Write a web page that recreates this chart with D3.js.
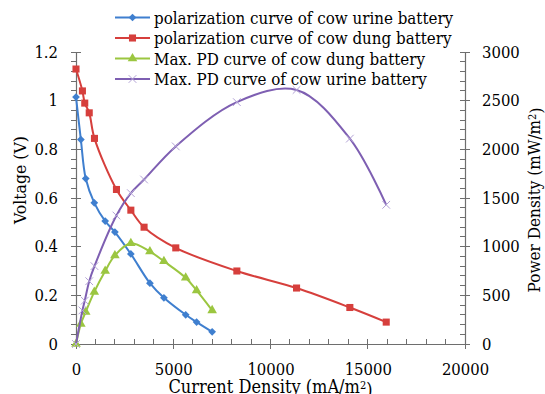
<!DOCTYPE html>
<html>
<head>
<meta charset="utf-8">
<script src="https://cdn.jsdelivr.net/npm/d3@7"></script>
<style>
  body { margin: 0; background: #fff; }
  svg text { font-stretch: condensed; }
</style>
</head>
<body>
<div id="chart"></div>
<script>
// polarization curve of cow urine battery
var urineCurrent = [0, 250, 500, 940, 1500, 2000, 2820, 3800, 4520, 5640, 6200, 7000];
var urineVoltage = [1.015, 0.84, 0.68, 0.58, 0.505, 0.46, 0.37, 0.25, 0.19, 0.12, 0.09, 0.05];
// polarization curve of cow dung battery
var dungCurrent = [0, 330, 450, 680, 950, 2080, 2820, 3500, 5130, 8270, 11340, 14080, 15950];
var dungVoltage = [1.13, 1.04, 0.99, 0.95, 0.845, 0.635, 0.55, 0.48, 0.395, 0.30, 0.23, 0.15, 0.09];
// Max. PD curve of cow dung battery (plotted on the urine current values)
var dungPD = [0, 205, 330, 535, 750, 910, 1035, 950, 850, 680, 550, 345];
// Max. PD curve of cow urine battery (plotted on the dung current values)
var urinePD = [0, 345, 445, 645, 800, 1320, 1550, 1690, 2030, 2485, 2610, 2110, 1430];

var legendNames = [
  "polarization curve of cow urine battery",
  "polarization curve of cow dung battery",
  "Max. PD curve of cow dung battery",
  "Max. PD curve of cow urine battery"
];
var xTicks = [0, 5000, 10000, 15000, 20000];
var yLeftTicks = [0, 0.2, 0.4, 0.6, 0.8, 1, 1.2];
var yRightTicks = [0, 500, 1000, 1500, 2000, 2500, 3000];

var width = 545, height = 394;
var tickFont = 16.5;
var serif = "'DejaVu Serif Condensed', 'DejaVu Serif', serif";

var svg = d3.select("#chart").append("svg")
    .attr("width", width)
    .attr("height", height)
    .attr("font-family", serif);

var x = d3.scaleLinear().domain([0, 20000]).range([76, 465]);
var yL = d3.scaleLinear().domain([0, 1.2]).range([344, 52]);
var yR = d3.scaleLinear().domain([0, 3000]).range([344, 52]);

var axisColor = "#6e6e6e";

// tick marks: minor ticks inside/outside, major ticks crossing
function tickLines(g, vals, fn) {
  g.selectAll(null).data(vals).enter().append("line")
    .each(function(d) { var p = fn(d); d3.select(this).attr("x1", p[0]).attr("y1", p[1]).attr("x2", p[2]).attr("y2", p[3]); })
    .attr("stroke", axisColor).attr("stroke-width", 1);
}
var ticksG = svg.append("g").attr("shape-rendering", "crispEdges");
tickLines(ticksG, d3.range(0, 20001, 1000), function(d) { return [x(d), 339, x(d), 344]; });
tickLines(ticksG, xTicks, function(d) { return [x(d), 339, x(d), 349]; });
tickLines(ticksG, d3.range(0, 31).map(function(i) { return i * 0.04; }), function(d) { return [71, yL(d), 76, yL(d)]; });
tickLines(ticksG, yLeftTicks, function(d) { return [71, yL(d), 81, yL(d)]; });
tickLines(ticksG, d3.range(0, 3001, 100), function(d) { return [460, yR(d), 465, yR(d)]; });
tickLines(ticksG, yRightTicks, function(d) { return [460, yR(d), 470, yR(d)]; });

// axes (labels + axis lines)
var xAxis = svg.append("g").attr("transform", "translate(0,344)")
    .call(d3.axisBottom(x).tickValues(xTicks).tickSize(0).tickPadding(19).tickFormat(d3.format("d")));
var yAxisL = svg.append("g").attr("transform", "translate(76,0)")
    .call(d3.axisLeft(yL).tickValues(yLeftTicks).tickSize(0).tickPadding(18).tickFormat(function(d) { return String(d); }));
var yAxisR = svg.append("g").attr("transform", "translate(465,0)")
    .call(d3.axisRight(yR).tickValues(yRightTicks).tickSize(0).tickPadding(17).tickFormat(d3.format("d")));

[xAxis, yAxisL, yAxisR].forEach(function(a) {
  a.attr("font-family", serif).attr("font-size", tickFont);
  a.selectAll("text").attr("fill", "#000");
  a.select(".domain").attr("stroke", axisColor).attr("stroke-width", 1.2);
});

// axis titles
svg.append("text")
    .attr("transform", "translate(26,180) rotate(-90)")
    .attr("text-anchor", "middle")
    .attr("font-size", 17.5)
    .text("Voltage (V)");

var rt = svg.append("text")
    .attr("transform", "translate(540,200) rotate(-90)")
    .attr("text-anchor", "middle")
    .attr("font-size", 17);
rt.append("tspan").text("Power Density (mW/m");
rt.append("tspan").attr("dy", "-0.4em").attr("font-size", 11).text("2");
rt.append("tspan").attr("dy", "0.4em").text(")");

var bt = svg.append("text")
    .attr("x", 270.5).attr("y", 393)
    .attr("text-anchor", "middle")
    .attr("font-size", 18);
bt.append("tspan").text("Current Density (mA/m");
bt.append("tspan").attr("dy", "-0.4em").attr("font-size", 11).text("2");
bt.append("tspan").attr("dy", "0.4em").text(")");

// series
var series = [
  { xs: urineCurrent, ys: urineVoltage, scale: yL, color: "#3f7fcf", marker: "diamond" },
  { xs: dungCurrent, ys: dungVoltage, scale: yL, color: "#d63f3c", marker: "square" },
  { xs: urineCurrent, ys: dungPD, scale: yR, color: "#9bc640", marker: "triangle" },
  { xs: dungCurrent, ys: urinePD, scale: yR, color: "#7e5fb2", marker: "cross" }
];

function drawMarker(g, type, color, cx, cy) {
  if (type === "diamond") {
    g.append("path").attr("d", d3.symbol().type(d3.symbolSquare).size(30)())
      .attr("transform", "translate(" + cx + "," + cy + ") rotate(45)").attr("fill", color);
  } else if (type === "square") {
    g.append("path").attr("d", d3.symbol().type(d3.symbolSquare).size(50)())
      .attr("transform", "translate(" + cx + "," + cy + ")").attr("fill", color);
  } else if (type === "triangle") {
    g.append("path").attr("d", d3.symbol().type(d3.symbolTriangle).size(40)())
      .attr("transform", "translate(" + cx + "," + cy + ")").attr("fill", color);
  } else {
    g.append("path").attr("d", d3.symbol().type(d3.symbolX).size(40)())
      .attr("transform", "translate(" + cx + "," + cy + ")")
      .attr("fill", "none").attr("stroke", "#b3a3d6").attr("stroke-width", 1);
  }
}

series.forEach(function(s) {
  var pts = s.xs.map(function(v, i) { return [v, s.ys[i]]; });
  var line = d3.line()
      .x(function(d) { return x(d[0]); })
      .y(function(d) { return s.scale(d[1]); })
      .curve(d3.curveCatmullRom.alpha(0.5));
  var g = svg.append("g");
  g.append("path").datum(pts).attr("d", line)
    .attr("fill", "none").attr("stroke", s.color).attr("stroke-width", 2);
  pts.forEach(function(d) { drawMarker(g, s.marker, s.color, x(d[0]), s.scale(d[1])); });
});

// legend
var legend = svg.append("g");
var rowY = [17.5, 38, 58.5, 79];
series.forEach(function(s, i) {
  var g = legend.append("g");
  g.append("line").attr("x1", 115).attr("x2", 150).attr("y1", rowY[i]).attr("y2", rowY[i])
    .attr("stroke", s.color).attr("stroke-width", 2);
  drawMarker(g, s.marker, s.color, 132.5, rowY[i]);
  g.append("text").attr("x", 154).attr("y", rowY[i]).attr("dy", "0.36em")
    .attr("font-size", 16.8).text(legendNames[i]);
});
</script>
</body>
</html>
